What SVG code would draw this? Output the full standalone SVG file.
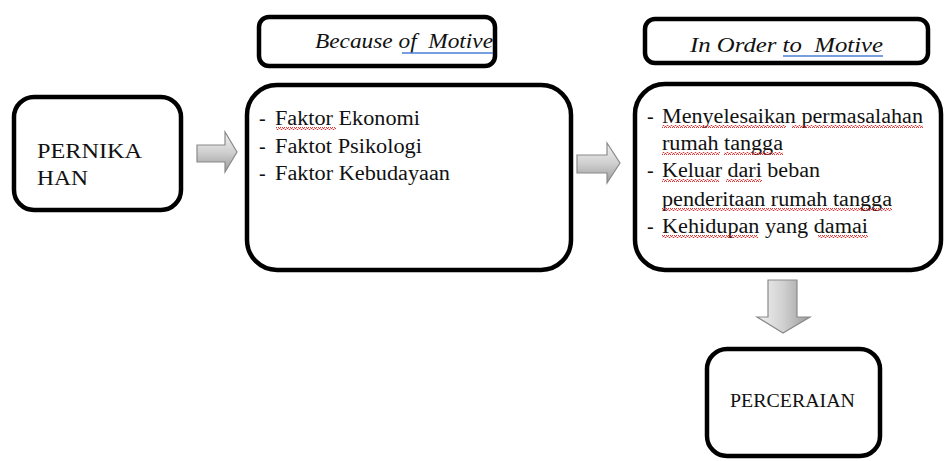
<svg xmlns="http://www.w3.org/2000/svg" width="945" height="461" viewBox="0 0 945 461">
<defs>
<linearGradient id="gh" x1="0" y1="0" x2="0" y2="1">
<stop offset="0" stop-color="#f2f2f2"/><stop offset="0.5" stop-color="#d0d0d0"/><stop offset="1" stop-color="#9a9a9a"/>
</linearGradient>
<linearGradient id="gv" x1="0" y1="0" x2="1" y2="0">
<stop offset="0" stop-color="#f2f2f2"/><stop offset="0.5" stop-color="#d0d0d0"/><stop offset="1" stop-color="#9a9a9a"/>
</linearGradient>
<pattern id="wave" width="4" height="3" patternUnits="userSpaceOnUse">
<path d="M0,2.5 L1,0.5 L2,0.5 L3,2.5 L4,2.5" fill="none" stroke="#e02020" stroke-width="0.9"/>
</pattern>
<style>
.box{fill:#fff;stroke:#000;stroke-width:4.5}
.t{font-family:'Liberation Serif','DejaVu Serif',serif;font-size:20px;fill:#111}
.h{font-family:'Liberation Serif','DejaVu Serif',serif;font-size:20px;font-style:italic;fill:#111}
.arr{stroke:#8a8a8a;stroke-width:1.2}
.sq{fill:url(#wave)}
.bl{stroke:#4a7fd6;stroke-width:1.3}
</style>
</defs>
<g id="connectors">
<polygon class="arr" fill="url(#gh)" points="197,145 225,145 225,132 237,152 225,172 225,162 197,162"/>
<polygon class="arr" fill="url(#gh)" points="577,155 607,155 607,143 620,163 607,183 607,173 577,173"/>
<polygon class="arr" fill="url(#gv)" points="768,280 797,280 797,317 810,317 783,333 757,317 768,317"/>
</g>
<g id="pernikahan">
<rect class="box" x="14" y="97" width="167" height="113" rx="20"/>
<text class="t" x="37" y="158" textLength="105" lengthAdjust="spacingAndGlyphs">PERNIKA</text>
<text class="t" x="37" y="185" textLength="51" lengthAdjust="spacingAndGlyphs">HAN</text>
</g>
<g id="because-header">
<rect class="box" x="259" y="17" width="236" height="49" rx="10"/>
<text class="h" x="315" y="48" textLength="178" lengthAdjust="spacingAndGlyphs">Because of&#160; Motive</text>
<line class="bl" x1="402" y1="53" x2="493" y2="53"/>
</g>
<g id="because-box">
<rect class="box" x="247" y="85" width="324" height="185" rx="30"/>
<text class="t" x="259" y="125">-</text>
<text class="t" x="275" y="125" textLength="145" lengthAdjust="spacingAndGlyphs">Faktor Ekonomi</text>
<rect class="sq" x="276" y="127" width="60" height="3"/>
<text class="t" x="259" y="153">-</text>
<text class="t" x="275" y="153" textLength="147" lengthAdjust="spacingAndGlyphs">Faktot Psikologi</text>
<text class="t" x="259" y="180">-</text>
<text class="t" x="275" y="180" textLength="175" lengthAdjust="spacingAndGlyphs">Faktor Kebudayaan</text>
</g>
<g id="inorder-header">
<rect class="box" x="645" y="19" width="283" height="44" rx="10"/>
<text class="h" x="690" y="52" textLength="193" lengthAdjust="spacingAndGlyphs">In Order to&#160; Motive</text>
<line class="bl" x1="783" y1="56" x2="883" y2="56"/>
</g>
<g id="inorder-box">
<rect class="box" x="635" y="84" width="306" height="186" rx="30"/>
<text class="t" x="647" y="123">-</text>
<text class="t" x="662" y="123" textLength="261" lengthAdjust="spacingAndGlyphs">Menyelesaikan permasalahan</text>
<rect class="sq" x="662" y="125" width="124" height="3"/>
<rect class="sq" x="792" y="125" width="131" height="3"/>
<text class="t" x="662" y="150" textLength="121" lengthAdjust="spacingAndGlyphs">rumah tangga</text>
<rect class="sq" x="662" y="152" width="58" height="3"/>
<rect class="sq" x="724" y="152" width="59" height="3"/>
<text class="t" x="647" y="177">-</text>
<text class="t" x="662" y="177" textLength="158" lengthAdjust="spacingAndGlyphs">Keluar dari beban</text>
<rect class="sq" x="662" y="179" width="57" height="3"/>
<rect class="sq" x="726" y="179" width="36" height="3"/>
<text class="t" x="662" y="206" textLength="230" lengthAdjust="spacingAndGlyphs">penderitaan rumah tangga</text>
<rect class="sq" x="662" y="208" width="230" height="3"/>
<text class="t" x="647" y="233">-</text>
<text class="t" x="662" y="233" textLength="206" lengthAdjust="spacingAndGlyphs">Kehidupan yang damai</text>
<rect class="sq" x="662" y="235" width="96" height="3"/>
<rect class="sq" x="818" y="235" width="50" height="3"/>
</g>
<g id="perceraian">
<rect class="box" x="707" y="349" width="173" height="107" rx="20"/>
<text class="t" x="730" y="407" textLength="125" lengthAdjust="spacingAndGlyphs" style="font-size:18px">PERCERAIAN</text>
</g>
</svg>
